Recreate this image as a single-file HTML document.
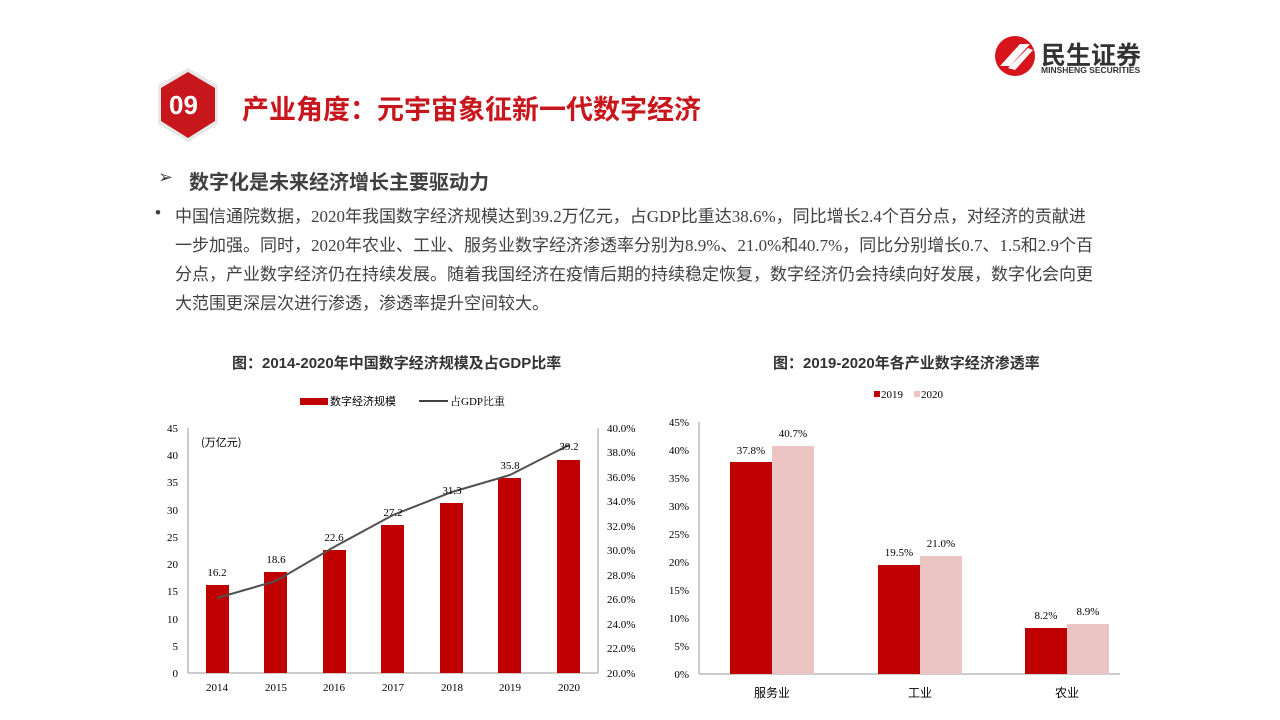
<!DOCTYPE html>
<html><head><meta charset="utf-8"><style>
body{margin:0;width:1280px;height:720px;background:#fff;position:relative;overflow:hidden;font-family:"Liberation Sans","Noto Sans CJK SC",sans-serif}
.a{position:absolute;white-space:nowrap}
.p{color:#404040;font-size:17px;left:175px;font-family:"Liberation Serif","Noto Sans CJK SC",serif}
</style></head><body>
<svg class="a" style="left:0;top:0" width="1280" height="720">
<polygon points="188,68 218,85 218,124 188,142 158,124 158,85" fill="#e8e8e8"/>
<polygon points="188,72 215,88 215,121 188,138 161,121 161,88" fill="#c8161d"/>
<circle cx="1015" cy="56" r="20" fill="#d7141b"/>
<path d="M1000 66 L1020 44 L1030 44 L1010 66Z M1008 68 L1028 48 L1033 50 L1015 70Z" fill="#fff"/>
</svg>
<div class="a" style="left:169px;top:90px;color:#fff;font-size:26px;font-weight:bold">09</div>
<div class="a" style="left:242px;top:88px;color:#c8161d;font-size:27px;font-weight:bold">产业角度：元宇宙象征新一代数字经济</div>
<div class="a" style="left:1041px;top:36px;color:#333;font-size:25px;font-weight:bold">民生证券</div>
<div class="a" style="left:1041px;top:65px;color:#333;font-size:8.5px;font-weight:bold">MINSHENG SECURITIES</div>
<div class="a" style="left:158px;top:167px;color:#404040;font-size:18px">➢</div>
<div class="a" style="left:189px;top:166px;color:#404040;font-size:20px;font-weight:bold">数字化是未来经济增长主要驱动力</div>
<div class="a" style="left:155px;top:203px;color:#404040;font-size:17px">•</div>
<div class="a p" style="top:202px">中国信通院数据，2020年我国数字经济规模达到39.2万亿元，占GDP比重达38.6%，同比增长2.4个百分点，对经济的贡献进</div>
<div class="a p" style="top:231px">一步加强。同时，2020年农业、工业、服务业数字经济渗透率分别为8.9%、21.0%和40.7%，同比分别增长0.7、1.5和2.9个百</div>
<div class="a p" style="top:260px">分点，产业数字经济仍在持续发展。随着我国经济在疫情后期的持续稳定恢复，数字经济仍会持续向好发展，数字化会向更</div>
<div class="a p" style="top:289px">大范围更深层次进行渗透，渗透率提升空间较大。</div>
<div class="a" style="left:232px;top:352px;color:#333;font-size:15px;font-weight:bold">图：2014-2020年中国数字经济规模及占GDP比率</div>
<div class="a" style="left:773px;top:352px;color:#333;font-size:15px;font-weight:bold">图：2019-2020年各产业数字经济渗透率</div>
<svg class="a" style="left:0;top:0" width="1280" height="720" font-family="Liberation Serif,Noto Serif CJK SC,serif" font-size="11" fill="#000">
<rect x="300" y="398" width="28" height="7" fill="#c00000"/>
<text x="330" y="405" font-family="Noto Sans CJK SC,sans-serif">数字经济规模</text>
<line x1="419" y1="401" x2="448" y2="401" stroke="#404040" stroke-width="2"/>
<text x="450" y="405">占GDP比重</text>
<line x1="188" y1="428" x2="188" y2="673" stroke="#999"/>
<line x1="598" y1="428" x2="598" y2="673" stroke="#999"/>
<line x1="188" y1="673" x2="598" y2="673" stroke="#999"/>
<g text-anchor="end">
<text x="178" y="432">45</text><text x="178" y="459">40</text><text x="178" y="486">35</text><text x="178" y="514">30</text><text x="178" y="541">25</text><text x="178" y="568">20</text><text x="178" y="595">15</text><text x="178" y="623">10</text><text x="178" y="650">5</text><text x="178" y="677">0</text>
</g>
<g>
<text x="607" y="432">40.0%</text><text x="607" y="456">38.0%</text><text x="607" y="481">36.0%</text><text x="607" y="505">34.0%</text><text x="607" y="530">32.0%</text><text x="607" y="554">30.0%</text><text x="607" y="579">28.0%</text><text x="607" y="603">26.0%</text><text x="607" y="628">24.0%</text><text x="607" y="652">22.0%</text><text x="607" y="677">20.0%</text>
</g>
<text x="201" y="446" font-family="Noto Sans CJK SC,sans-serif">(万亿元)</text>
<g fill="#c00000">
<rect x="206" y="585" width="23" height="88"/><rect x="264" y="572" width="23" height="101"/><rect x="323" y="550" width="23" height="123"/><rect x="381" y="525" width="23" height="148"/><rect x="440" y="503" width="23" height="170"/><rect x="498" y="478" width="23" height="195"/><rect x="557" y="460" width="23" height="213"/>
</g>
<polyline points="217,598 276,581 334,547 393,515 452,492 510,475 569,445" fill="none" stroke="#505050" stroke-width="2"/>
<g text-anchor="middle">
<text x="217" y="576">16.2</text><text x="276" y="563">18.6</text><text x="334" y="541">22.6</text><text x="393" y="516">27.2</text><text x="452" y="494">31.3</text><text x="510" y="469">35.8</text><text x="569" y="450">39.2</text>
<text x="217" y="691">2014</text><text x="276" y="691">2015</text><text x="334" y="691">2016</text><text x="393" y="691">2017</text><text x="452" y="691">2018</text><text x="510" y="691">2019</text><text x="569" y="691">2020</text>
</g>
<rect x="874" y="391" width="6" height="6" fill="#c00000"/><text x="881" y="398">2019</text>
<rect x="914" y="391" width="6" height="6" fill="#ecc4c4"/><text x="921" y="398">2020</text>
<line x1="699" y1="422" x2="699" y2="674" stroke="#999"/>
<line x1="699" y1="674" x2="1120" y2="674" stroke="#999"/>
<g text-anchor="end">
<text x="689" y="426">45%</text><text x="689" y="454">40%</text><text x="689" y="482">35%</text><text x="689" y="510">30%</text><text x="689" y="538">25%</text><text x="689" y="566">20%</text><text x="689" y="594">15%</text><text x="689" y="622">10%</text><text x="689" y="650">5%</text><text x="689" y="678">0%</text>
</g>
<rect x="730" y="462" width="42" height="212" fill="#c00000"/><rect x="772" y="446" width="42" height="228" fill="#ecc4c4"/>
<rect x="878" y="565" width="42" height="109" fill="#c00000"/><rect x="920" y="556" width="42" height="118" fill="#ecc4c4"/>
<rect x="1025" y="628" width="42" height="46" fill="#c00000"/><rect x="1067" y="624" width="42" height="50" fill="#ecc4c4"/>
<g text-anchor="middle">
<text x="751" y="454">37.8%</text><text x="793" y="437">40.7%</text>
<text x="899" y="556">19.5%</text><text x="941" y="547">21.0%</text>
<text x="1046" y="619">8.2%</text><text x="1088" y="615">8.9%</text>
<g font-family="Noto Sans CJK SC,sans-serif" font-size="12">
<text x="772" y="697">服务业</text><text x="920" y="697">工业</text><text x="1067" y="697">农业</text>
</g>
</g>
</svg>
</body></html>
